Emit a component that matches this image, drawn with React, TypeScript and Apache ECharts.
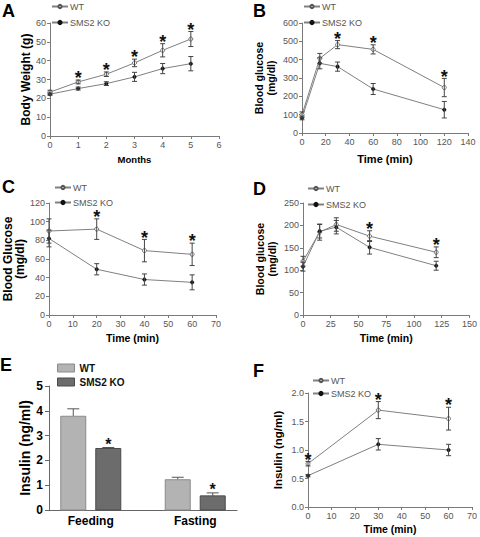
import React, { useEffect, useRef } from "react";
import * as echarts from "echarts";

const FONT = '"Liberation Sans", Arial, sans-serif';

// Panel A: body weight
const monthsA = [0, 1, 2, 3, 4, 5];
const wtA = [23.3, 28.7, 32.8, 38.8, 45.5, 51.5];
const wtAErr = [1, 1, 1.2, 2, 3.5, 4];
const koA = [22.2, 25.2, 27.8, 31.4, 35.8, 38.4];
const koAErr = [0.6, 0.8, 1, 2.4, 2.7, 3.8];
const sigA = [1, 2, 3, 4, 5];

// Panel B: GTT
const timeB = [0, 15, 30, 60, 120];
const wtB = [100, 407, 482, 456, 248];
const wtBErr = [15, 27, 22, 25, 50];
const koB = [82, 380, 362, 240, 127];
const koBErr = [10, 30, 25, 30, 45];
const sigB = [2, 3, 4];

// Panel C: ITT
const timeC = [0, 20, 40, 60];
const wtC = [90, 92, 69, 65];
const wtCErr = [13, 11, 12, 12];
const koC = [82, 49, 38, 35];
const koCErr = [9, 6, 6, 8];
const sigC = [1, 2, 3];

// Panel D
const timeD = [0, 15, 30, 60, 120];
const wtD = [120, 185, 202, 176, 140];
const wtDErr = [11, 18, 15, 12, 12];
const koD = [108, 187, 196, 151, 110];
const koDErr = [10, 15, 15, 15, 10];
const sigD = [3, 4];

// Panel E: insulin bars
const catE = ["Feeding", "Fasting"];
const wtE = [3.78, 1.22];
const wtEErr = [0.3, 0.1];
const koE = [2.48, 0.57];
const koEErr = [0.04, 0.12];
const sigE = [0, 1];

// Panel F
const timeF = [0, 30, 60];
const wtF = [0.76, 1.7, 1.55];
const wtFErr = [0.04, 0.15, 0.2];
const koF = [0.55, 1.1, 1.0];
const koFErr = [0.02, 0.1, 0.1];
const sigF = [0, 1, 2];

const AX = "#7a7a7a";
const LINE = "#808080";
const ERR = "#444";

function lineSeries(idx: number, name: string, xs: number[], ys: number[], wt: boolean) {
  return {
    type: "line",
    name,
    xAxisIndex: idx,
    yAxisIndex: idx,
    data: xs.map((x, i) => [x, ys[i]]),
    symbol: "circle",
    symbolSize: wt ? 4 : 3.5,
    itemStyle: wt
      ? { color: "#fff", borderColor: "#555", borderWidth: 0.8 }
      : { color: "#111", borderColor: "#111", borderWidth: 0.5 },
    lineStyle: { color: LINE, width: 1 },
    z: 2,
    silent: true,
  };
}

function errSeries(idx: number, xs: number[], ys: number[], es: number[]) {
  return {
    type: "custom",
    xAxisIndex: idx,
    yAxisIndex: idx,
    data: xs.map((x, i) => [x, ys[i] - es[i], ys[i] + es[i]]),
    silent: true,
    z: 3,
    renderItem: (_p: any, api: any) => {
      const x = api.value(0);
      const lo = api.coord([x, api.value(1)]);
      const hi = api.coord([x, api.value(2)]);
      const hw = 2.5;
      const st = { stroke: ERR, lineWidth: 1 };
      return {
        type: "group",
        children: [
          { type: "line", shape: { x1: lo[0], y1: lo[1], x2: hi[0], y2: hi[1] }, style: st },
          { type: "line", shape: { x1: lo[0] - hw, y1: lo[1], x2: lo[0] + hw, y2: lo[1] }, style: st },
          { type: "line", shape: { x1: hi[0] - hw, y1: hi[1], x2: hi[0] + hw, y2: hi[1] }, style: st },
        ],
      };
    },
  };
}

function starSeries(idx: number, xs: number[], ys: number[], es: number[], sig: number[], dx = 0, size = 18, up = 6) {
  return {
    type: "custom",
    xAxisIndex: idx,
    yAxisIndex: idx,
    data: sig.map((i) => [xs[i], ys[i] + es[i]]),
    silent: true,
    z: 4,
    renderItem: (_p: any, api: any) => {
      const pt = api.coord([api.value(0), api.value(1)]);
      return {
        type: "text",
        x: pt[0] + dx,
        y: pt[1] - up + size * 0.23,
        style: {
          text: "*",
          font: `bold ${size}px ${FONT}`,
          lineHeight: 9,
          fill: "#111",
          align: "center",
          verticalAlign: "middle",
        },
      };
    },
  };
}

function barSeries(idx: number, name: string, vals: number[], errs: number[], dx: number, fill: string, stroke: string) {
  return {
    type: "custom",
    name,
    xAxisIndex: idx,
    yAxisIndex: idx,
    data: vals.map((v, i) => [i, v, errs[i]]),
    silent: true,
    z: 2,
    renderItem: (_p: any, api: any) => {
      const i = api.value(0);
      const v = api.value(1);
      const e = api.value(2);
      const top = api.coord([i, v]);
      const base = api.coord([i, 0]);
      const et = api.coord([i, v + e]);
      const cx = top[0] + dx;
      const w = 25;
      const st = { stroke: "#555", lineWidth: 1 };
      return {
        type: "group",
        children: [
          { type: "line", shape: { x1: cx, y1: top[1], x2: cx, y2: et[1] }, style: st },
          { type: "line", shape: { x1: cx - 6, y1: et[1], x2: cx + 6, y2: et[1] }, style: st },
          {
            type: "rect",
            shape: { x: cx - w / 2, y: top[1], width: w, height: base[1] - top[1] },
            style: { fill, stroke, lineWidth: 1 },
          },
        ],
      };
    },
  };
}

function valueAxis(idx: number, min: number, max: number, interval: number, extra: any = {}) {
  return {
    type: "value",
    gridIndex: idx,
    min,
    max,
    interval,
    axisLine: { show: true, onZero: false, lineStyle: { color: AX, width: 1 } },
    axisTick: { show: true, length: 3, lineStyle: { color: AX } },
    axisLabel: { color: "#555", fontSize: 9, fontFamily: FONT, margin: 4 },
    splitLine: { show: false },
    ...extra,
  };
}

function nameStyle(size: number, lh?: number) {
  return { fontWeight: "bold", fontSize: size, color: "#000", fontFamily: FONT, lineHeight: lh || size + 1 };
}

function lineLegend(left: number, top: number, gap = 3) {
  return {
    left,
    top,
    orient: "vertical",
    itemWidth: 16,
    itemHeight: 4,
    itemGap: gap + 4,
    padding: 0,
    selectedMode: false,
    textStyle: { color: "#555", fontSize: 9, fontFamily: FONT, padding: [0, 0, 0, -3] },
    data: ["WT", "SMS2 KO"],
  };
}

export default function App() {
  const ref = useRef<HTMLDivElement>(null);
  useEffect(() => {
    document.body.style.margin = "0";
    const chart = echarts.init(ref.current!, null, { renderer: "svg" });
    const grids = [
      { left: 50, top: 23, width: 169, height: 113 },
      { left: 302, top: 23, width: 166, height: 110 },
      { left: 49, top: 203, width: 167, height: 112 },
      { left: 303, top: 203, width: 167, height: 112 },
      { left: 49, top: 386, width: 188, height: 124 },
      { left: 308, top: 393, width: 165, height: 114 },
    ];
    const xName = (n: string, size: number, gap: number) => ({
      name: n,
      nameLocation: "middle",
      nameGap: gap,
      nameTextStyle: nameStyle(size),
    });
    const yName = (n: string, size: number, gap: number, lh?: number) => ({
      name: n,
      nameLocation: "middle",
      nameGap: gap,
      nameRotate: 90,
      nameTextStyle: nameStyle(size, lh),
    });
    const xAxis = [
      valueAxis(0, 0, 6, 1, xName("Months", 9.5, 18)),
      valueAxis(1, 0, 140, 20, xName("Time (min)", 11, 20)),
      valueAxis(2, 0, 70, 10, xName("Time (min)", 10.5, 17)),
      valueAxis(3, 0, 150, 25, xName("Time (min)", 10.5, 17)),
      {
        type: "value",
        gridIndex: 4,
        min: -0.4,
        max: 1.4,
        axisLine: { show: true, onZero: false, lineStyle: { color: "#666", width: 1 } },
        axisTick: { show: false },
        splitLine: { show: false },
        axisLabel: {
          customValues: catE.map((_, i) => i),
          formatter: (v: number) => catE[Math.round(v)] ?? "",
          color: "#000",
          fontWeight: "bold",
          fontSize: 12,
          fontFamily: FONT,
          margin: 5,
        },
      },
      valueAxis(5, 0, 70, 10, xName("Time (min)", 10.5, 16)),
    ];
    const yAxis = [
      valueAxis(0, 0, 60, 10, yName("Body Weight (g)", 12, 18)),
      valueAxis(1, 0, 600, 100, yName("Blood glucose\n(mg/dl)", 10.5, 25, 12)),
      valueAxis(2, 0, 120, 20, yName("Blood Glucose\n(mg/dl)", 12, 22, 12)),
      valueAxis(3, 0, 250, 50, yName("Blood glucose\n(mg/dl)", 10.5, 25, 12)),
      {
        type: "value",
        gridIndex: 4,
        min: 0,
        max: 5,
        interval: 1,
        ...yName("Insulin (ng/ml)", 14, 12),
        axisLine: { show: true, onZero: false, lineStyle: { color: "#666", width: 1 } },
        axisTick: { show: true, length: 4, lineStyle: { color: "#666" } },
        axisLabel: { color: "#000", fontWeight: "bold", fontSize: 12, fontFamily: FONT, margin: 6 },
        splitLine: { show: false },
      },
      valueAxis(5, 0, 2, 0.5, {
        ...yName("Insulin (ng/ml)", 11.5, 24),
        axisLabel: { color: "#555", fontSize: 9, fontFamily: FONT, margin: 4, formatter: (v: number) => v.toFixed(1) },
      }),
    ];
    const series: any[] = [
      lineSeries(0, "WT", monthsA, wtA, true),
      lineSeries(0, "SMS2 KO", monthsA, koA, false),
      errSeries(0, monthsA, wtA, wtAErr),
      errSeries(0, monthsA, koA, koAErr),
      starSeries(0, monthsA, wtA, wtAErr, sigA),

      lineSeries(1, "WT", timeB, wtB, true),
      lineSeries(1, "SMS2 KO", timeB, koB, false),
      errSeries(1, timeB, wtB, wtBErr),
      errSeries(1, timeB, koB, koBErr),
      starSeries(1, timeB, wtB, wtBErr, sigB),

      lineSeries(2, "WT", timeC, wtC, true),
      lineSeries(2, "SMS2 KO", timeC, koC, false),
      errSeries(2, timeC, wtC, wtCErr),
      errSeries(2, timeC, koC, koCErr),
      starSeries(2, timeC, wtC, wtCErr, sigC),

      lineSeries(3, "WT", timeD, wtD, true),
      lineSeries(3, "SMS2 KO", timeD, koD, false),
      errSeries(3, timeD, wtD, wtDErr),
      errSeries(3, timeD, koD, koDErr),
      starSeries(3, timeD, wtD, wtDErr, sigD),

      lineSeries(5, "WT", timeF, wtF, true),
      lineSeries(5, "SMS2 KO", timeF, koF, false),
      errSeries(5, timeF, wtF, wtFErr),
      errSeries(5, timeF, koF, koFErr),
      starSeries(5, timeF, wtF, wtFErr, sigF),

      barSeries(4, "WT bars", wtE, wtEErr, -17.5, "#b3b3b3", "#8a8a8a"),
      barSeries(4, "KO bars", koE, koEErr, 17.5, "#6c6c6c", "#4a4a4a"),
      starSeries(4, catE.map((_, i) => i), koE, koEErr, sigE, 17.5, 16, 7),
    ];
    const legend: any[] = [
      lineLegend(51, 2),
      lineLegend(303, 2),
      lineLegend(54, 183, 2),
      lineLegend(307, 184),
      lineLegend(312, 376, 0),
      {
        left: 57,
        top: 363,
        orient: "vertical",
        itemWidth: 17,
        itemHeight: 8,
        itemGap: 4,
        padding: 0,
        selectedMode: false,
        textStyle: { color: "#111", fontSize: 10, fontWeight: "bold", fontFamily: FONT },
        data: [
          { name: "WT", icon: "rect", itemStyle: { color: "#b3b3b3", borderColor: "#8a8a8a", borderWidth: 1 } },
          { name: "SMS2 KO", icon: "rect", itemStyle: { color: "#6c6c6c", borderColor: "#4a4a4a", borderWidth: 1 } },
        ],
      },
    ];
    const letter = (t: string, x: number, y: number) => ({
      type: "text",
      left: x,
      top: y,
      style: { text: t, font: `bold 18px ${FONT}`, fill: "#000" },
    });
    chart.setOption({
      animation: false,
      backgroundColor: "#fff",
      textStyle: { fontFamily: FONT },
      grid: grids,
      xAxis,
      yAxis,
      legend,
      series,
      graphic: [
        letter("A", 2, 2),
        letter("B", 253, 2),
        letter("C", 2, 178),
        letter("D", 253, 180),
        letter("E", 0, 356),
        letter("F", 253, 362),
      ],
    });
    return () => chart.dispose();
  }, []);
  return <div ref={ref} style={{ width: 480, height: 537 }} />;
}
